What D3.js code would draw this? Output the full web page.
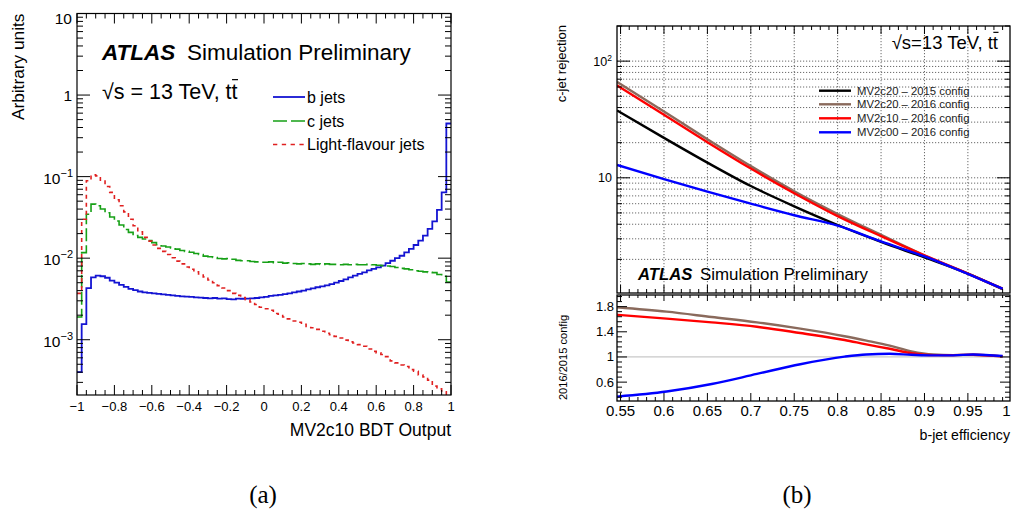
<!DOCTYPE html>
<html>
<head>
<meta charset="utf-8">
<script src="https://cdn.jsdelivr.net/npm/d3@7"></script>
<style>
  body { margin: 0; background: #fff; }
  svg { display: block; font-family: "Liberation Sans", Arial, Helvetica, sans-serif; }
</style>
</head>
<body>
<svg id="fig" width="1011" height="519"></svg>
<script>
// ---------- (a) MV2c10 BDT output, 80 bins from -1 to 1 ----------
const bdtRange = [-1, 1];
const bJets = [4.0e-4, 1.55e-3, 4.3e-3, 5.8e-3, 6.1e-3, 6.0e-3, 5.75e-3, 5.3e-3, 5.0e-3, 4.7e-3,
  4.45e-3, 4.2e-3, 4.05e-3, 3.9e-3, 3.8e-3, 3.75e-3, 3.7e-3, 3.65e-3, 3.6e-3, 3.55e-3,
  3.5e-3, 3.45e-3, 3.4e-3, 3.38e-3, 3.35e-3, 3.3e-3, 3.28e-3, 3.25e-3, 3.22e-3, 3.25e-3,
  3.2e-3, 3.22e-3, 3.15e-3, 3.12e-3, 3.2e-3, 3.18e-3, 3.2e-3, 3.22e-3, 3.25e-3, 3.3e-3,
  3.35e-3, 3.45e-3, 3.5e-3, 3.55e-3, 3.62e-3, 3.7e-3, 3.8e-3, 3.9e-3, 4.0e-3, 4.15e-3,
  4.25e-3, 4.4e-3, 4.5e-3, 4.65e-3, 4.8e-3, 5.0e-3, 5.25e-3, 5.5e-3, 5.8e-3, 6.1e-3,
  6.4e-3, 6.7e-3, 7.1e-3, 7.4e-3, 7.7e-3, 8.1e-3, 8.7e-3, 9.3e-3, 1.0e-2, 1.07e-2,
  1.18e-2, 1.3e-2, 1.45e-2, 1.64e-2, 1.89e-2, 2.29e-2, 2.83e-2, 3.9e-2, 6.4e-2, 0.448];
const cJets = [1.9e-3, 1.17e-2, 3.46e-2, 4.6e-2, 4.4e-2, 4.0e-2, 3.6e-2, 3.2e-2, 2.85e-2, 2.55e-2,
  2.25e-2, 2.07e-2, 1.9e-2, 1.8e-2, 1.72e-2, 1.64e-2, 1.55e-2, 1.46e-2, 1.41e-2, 1.37e-2,
  1.33e-2, 1.29e-2, 1.24e-2, 1.21e-2, 1.18e-2, 1.14e-2, 1.11e-2, 1.06e-2, 1.04e-2, 1.02e-2,
  9.9e-3, 9.8e-3, 9.9e-3, 9.7e-3, 9.4e-3, 9.3e-3, 9.3e-3, 9.1e-3, 9.0e-3, 8.9e-3,
  8.9e-3, 9.0e-3, 8.8e-3, 8.9e-3, 8.7e-3, 8.8e-3, 8.6e-3, 8.5e-3, 8.6e-3, 8.5e-3,
  8.4e-3, 8.5e-3, 8.4e-3, 8.5e-3, 8.4e-3, 8.4e-3, 8.3e-3, 8.4e-3, 8.3e-3, 8.4e-3,
  8.3e-3, 8.3e-3, 8.4e-3, 8.3e-3, 8.2e-3, 8.1e-3, 8.0e-3, 7.9e-3, 7.7e-3, 7.5e-3,
  7.4e-3, 7.2e-3, 7.0e-3, 6.9e-3, 6.8e-3, 6.7e-3, 6.65e-3, 6.3e-3, 6.0e-3, 5.1e-3];
const lightJets = [3.7e-3, 0.030, 0.089, 0.105, 0.102, 0.088, 0.0755, 0.064, 0.052, 0.044,
  0.037, 0.030, 0.025, 0.021, 0.018, 0.0162, 0.0145, 0.0132, 0.0121, 0.0111,
  0.0101, 0.0092, 0.0085, 0.0078, 0.0073, 0.0068, 0.0064, 0.0059, 0.0054, 0.0050,
  0.0046, 0.0043, 0.0040, 0.0037, 0.0035, 0.0033, 0.0031, 0.0029, 0.0027, 0.0025,
  0.0024, 0.0023, 0.0021, 0.00205, 0.0019, 0.0018, 0.0017, 0.00164, 0.00155, 0.00145,
  0.0014, 0.00134, 0.00127, 0.0012, 0.00115, 0.0011, 0.00105, 0.00099, 0.00094, 0.00091,
  0.00087, 0.00083, 0.00077, 0.00072, 0.00069, 0.00066, 0.00062, 0.00055, 0.00052, 0.00049,
  0.00047, 0.00043, 0.00041, 0.00037, 0.00035, 0.00032, 0.00027, 0.00025, 0.00023, 0.00015];
const bdtTickValues = [-1, -0.8, -0.6, -0.4, -0.2, 0, 0.2, 0.4, 0.6, 0.8, 1];
const bdtTickLabels = ["\u22121", "\u22120.8", "\u22120.6", "\u22120.4", "\u22120.2", "0", "0.2", "0.4", "0.6", "0.8", "1"];
const histLabels = ["b jets", "c jets", "Light-flavour jets"];

// ---------- (b) c-jet rejection vs b-jet efficiency ----------
const effPoints = [0.546, 0.6, 0.65, 0.7, 0.75, 0.8, 0.85, 0.9, 0.95, 0.99];
const rejMV2c20_2015 = [37.8, 22.0, 13.5, 8.5, 5.7, 3.94, 2.82, 2.08, 1.51, 1.11];
const rejMV2c20_2016 = [66.4, 37.0, 21.4, 12.6, 7.67, 4.9, 3.24, 2.16, 1.51, 1.12];
const rejMV2c10_2016 = [62.0, 34.7, 20.2, 12.0, 7.38, 4.7, 3.16, 2.16, 1.51, 1.12];
const rejMV2c00_2016 = [12.9, 9.75, 7.6, 6.0, 4.78, 3.89, 2.85, 2.12, 1.5, 1.12];
const ratioEff = [0.546, 0.603, 0.655, 0.707, 0.757, 0.808, 0.833, 0.86, 0.885, 0.91, 0.933, 0.956, 0.99];
const ratioMV2c20 = [1.79, 1.72, 1.635, 1.55, 1.45, 1.33, 1.26, 1.18, 1.09, 1.04, 1.03, 1.035, 1.01];
const ratioMV2c10 = [1.67, 1.61, 1.55, 1.48, 1.38, 1.27, 1.20, 1.13, 1.06, 1.03, 1.03, 1.035, 1.01];
const ratioMV2c00 = [0.37, 0.45, 0.57, 0.73, 0.885, 1.005, 1.04, 1.05, 1.035, 1.025, 1.025, 1.04, 1.015];
const rocLabels = ["MV2c20 \u2013 2015 config", "MV2c20 \u2013 2016 config", "MV2c10 \u2013 2016 config", "MV2c00 \u2013 2016 config"];
const effTickLabels = ["0.55", "0.6", "0.65", "0.7", "0.75", "0.8", "0.85", "0.9", "0.95", "1"];
const ratioTickValues = [0.6, 1, 1.4, 1.8];

const colB = "#1414d2", colC = "#16a016", colL = "#e02020";
const rocColors = ["#000000", "#8a6a5c", "#ff0000", "#0000ff"];

const svg = d3.select("#fig");
const defs = svg.append("defs");

function tick(g, x1, y1, x2, y2) {
  g.append("line").attr("x1", x1).attr("y1", y1).attr("x2", x2).attr("y2", y2)
    .attr("stroke", "#000").attr("stroke-width", 1);
}

// ===================== (a) =====================
const xL = d3.scaleLinear().domain(bdtRange).range([77, 451]);
const yL = d3.scaleLog().domain([2.1e-4, 10]).range([395, 13.5]);
const gA = svg.append("g");

defs.append("clipPath").attr("id", "clipA").append("rect")
  .attr("x", 77).attr("y", 13.5).attr("width", 374).attr("height", 381.5);

function histPoints(vals) {
  const w = (bdtRange[1] - bdtRange[0]) / vals.length;
  const pts = vals.map((v, i) => [bdtRange[0] + i * w, v]);
  pts.push([bdtRange[1], vals[vals.length - 1]]);
  return pts;
}
const stepLine = d3.line().x(d => xL(d[0])).y(d => yL(Math.max(d[1], 1e-5))).curve(d3.curveStepAfter);

const hists = [
  { vals: bJets, color: colB, dash: null, w: 1.8 },
  { vals: cJets, color: colC, dash: "13,4", w: 1.6 },
  { vals: lightJets, color: colL, dash: "4,4", w: 1.6 }
];
hists.forEach(h => {
  gA.append("path").datum(histPoints(h.vals))
    .attr("clip-path", "url(#clipA)")
    .attr("d", stepLine).attr("fill", "none")
    .attr("stroke", h.color).attr("stroke-width", h.w)
    .attr("stroke-dasharray", h.dash);
});

// frame
gA.append("rect").attr("x", 77).attr("y", 13.5).attr("width", 374).attr("height", 381.5)
  .attr("fill", "none").attr("stroke", "#000").attr("stroke-width", 1.2);

// x ticks (major 0.2, minor 0.05)
for (let k = -20; k <= 20; k++) {
  const v = k / 20, x = xL(v), major = (k % 4 === 0);
  const len = major ? 10 : 5;
  tick(gA, x, 395, x, 395 - len);
  tick(gA, x, 13.5, x, 13.5 + len);
}
bdtTickValues.forEach((v, i) => {
  gA.append("text").attr("x", xL(v)).attr("y", 411).attr("text-anchor", "middle")
    .attr("font-size", 13).text(bdtTickLabels[i]);
});

// y ticks (log)
for (let e = -4; e <= 1; e++) {
  for (let d = 1; d <= 9; d++) {
    const v = d * Math.pow(10, e);
    if (v < 2.1e-4 || v > 10.0001) continue;
    const y = yL(v), len = d === 1 ? 13 : 6;
    tick(gA, 77, y, 77 + len, y);
    tick(gA, 451, y, 451 - len, y);
  }
}
[[10, null], [1, null], [0.1, "\u22121"], [0.01, "\u22122"], [0.001, "\u22123"]].forEach(([v, sup]) => {
  const y = yL(v);
  if (sup === null) {
    const txt = v === 10 ? "10" : "1";
    gA.append("text").attr("x", 72).attr("y", v === 10 ? 24 : y + 5.5).attr("text-anchor", "end")
      .attr("font-size", 15.5).text(txt);
  } else {
    const t = gA.append("text").attr("x", 73).attr("y", y + 7).attr("text-anchor", "end").attr("font-size", 15.5);
    t.append("tspan").text("10");
    t.append("tspan").attr("dy", -7).attr("font-size", 11).text(sup);
  }
});

// axis titles
gA.append("text").attr("transform", "translate(24,13.5) rotate(-90)").attr("text-anchor", "end")
  .attr("font-size", 17.3).text("Arbitrary units");
gA.append("text").attr("x", 451).attr("y", 436).attr("text-anchor", "end")
  .attr("font-size", 17.5).text("MV2c10 BDT Output");

// ATLAS label
gA.append("text").attr("x", 102).attr("y", 60).attr("font-size", 22.5)
  .attr("font-weight", "bold").attr("font-style", "italic").text("ATLAS");
gA.append("text").attr("x", 187).attr("y", 60).attr("font-size", 22.5).text("Simulation Preliminary");

function energyLabel(g, x, y, size, anchor, spaced) {
  const str = spaced ? "\u221As = 13 TeV, tt" : "\u221As=13 TeV, tt";
  const t = g.append("text").attr("x", x).attr("y", y).attr("font-size", size)
    .attr("text-anchor", anchor).text(str);
  const n = t.node(), last = str.length - 1;
  const x0 = n.getStartPositionOfChar(last).x, x1 = n.getEndPositionOfChar(last).x;
  g.append("line").attr("x1", x0 + 0.5).attr("x2", x1 + 0.5)
    .attr("y1", y - 0.9 * size).attr("y2", y - 0.9 * size)
    .attr("stroke", "#000").attr("stroke-width", 1.2);
}
energyLabel(gA, 102, 99, 21.5, "start", true);

// legend
const legA = [
  { color: colB, dash: null, w: 1.8 },
  { color: colC, dash: "14,4", w: 1.6 },
  { color: colL, dash: "4.3,4.5", w: 1.6 }
];
legA.forEach((l, i) => {
  const y = [97, 121, 144.5][i];
  gA.append("line").attr("x1", 273).attr("x2", 305).attr("y1", y).attr("y2", y)
    .attr("stroke", l.color).attr("stroke-width", l.w).attr("stroke-dasharray", l.dash);
  gA.append("text").attr("x", 307).attr("y", y + 5.5).attr("font-size", 16).text(histLabels[i]);
});

// ===================== (b) =====================
const xR = d3.scaleLinear().domain([0.5459, 0.9985]).range([617, 1010]);
const yR = d3.scaleLog().domain([1.03, 200]).range([293, 26]);
const yQ = d3.scaleLinear().domain([0.3, 1.985]).range([401, 295]);
const gB = svg.append("g");

defs.append("clipPath").attr("id", "clipTop").append("rect")
  .attr("x", 617).attr("y", 26).attr("width", 393).attr("height", 267);
defs.append("clipPath").attr("id", "clipBot").append("rect")
  .attr("x", 617).attr("y", 295).attr("width", 393).attr("height", 106);

// grid (top pad)
const gridG = gB.append("g").attr("stroke", "#444").attr("stroke-width", 0.8)
  .attr("stroke-dasharray", "1.2,1.8");
for (let k = 55; k <= 95; k += 5) {
  const x = xR(k / 100);
  gridG.append("line").attr("x1", x).attr("x2", x).attr("y1", 26).attr("y2", 293);
}
for (let e = 0; e <= 2; e++) {
  for (let d = 1; d <= 9; d++) {
    const v = d * Math.pow(10, e);
    if (v < 1.9 || v > 100) continue;
    const y = yR(v);
    gridG.append("line").attr("x1", 617).attr("x2", 1010).attr("y1", y).attr("y2", y);
  }
}

// ratio reference line
gB.append("line").attr("x1", 617).attr("x2", 1010).attr("y1", yQ(1)).attr("y2", yQ(1))
  .attr("stroke", "#c8c8c8").attr("stroke-width", 1.2);

// curves
const rocLine = d3.line().x(d => xR(d[0])).y(d => yR(d[1])).curve(d3.curveMonotoneX);
[rejMV2c20_2015, rejMV2c20_2016, rejMV2c10_2016, rejMV2c00_2016].forEach((s, i) => {
  gB.append("path").datum(effPoints.map((e, j) => [e, s[j]]))
    .attr("clip-path", "url(#clipTop)").attr("d", rocLine)
    .attr("fill", "none").attr("stroke", rocColors[i]).attr("stroke-width", 2.4);
});
const ratioLine = d3.line().x(d => xR(d[0])).y(d => yQ(d[1])).curve(d3.curveMonotoneX);
[[ratioMV2c20, 1], [ratioMV2c10, 2], [ratioMV2c00, 3]].forEach(([s, c]) => {
  gB.append("path").datum(ratioEff.map((e, j) => [e, s[j]]))
    .attr("clip-path", "url(#clipBot)").attr("d", ratioLine)
    .attr("fill", "none").attr("stroke", rocColors[c]).attr("stroke-width", 2.4);
});

// frames
gB.append("rect").attr("x", 617).attr("y", 26).attr("width", 393).attr("height", 267)
  .attr("fill", "none").attr("stroke", "#000").attr("stroke-width", 1.3);
gB.append("rect").attr("x", 617).attr("y", 295).attr("width", 393).attr("height", 106)
  .attr("fill", "none").attr("stroke", "#000").attr("stroke-width", 1.3);

// x ticks both pads
for (let k = 55; k <= 99; k++) {
  const x = xR(k / 100), major = (k % 5 === 0);
  tick(gB, x, 26, x, 26 + (major ? 8 : 4));
  tick(gB, x, 293, x, 293 - (major ? 8 : 4));
  tick(gB, x, 295, x, 295 + (major ? 6 : 3));
  tick(gB, x, 401, x, 401 - (major ? 8 : 4));
}
effTickLabels.forEach((lab, i) => {
  const v = 0.55 + 0.05 * i;
  const last = i === effTickLabels.length - 1;
  gB.append("text").attr("x", last ? 1010.5 : xR(v)).attr("y", 415.5)
    .attr("text-anchor", last ? "end" : "middle")
    .attr("font-size", 15).text(lab);
});

// y ticks top pad (log)
for (let e = 0; e <= 2; e++) {
  for (let d = 1; d <= 9; d++) {
    const v = d * Math.pow(10, e);
    if (v < 1.03 || v > 200.01) continue;
    const y = yR(v), len = d === 1 ? 13 : 5;
    tick(gB, 617, y, 617 + len, y);
    tick(gB, 1010, y, 1010 - len, y);
  }
}
{
  const t = gB.append("text").attr("x", 612).attr("y", yR(100) + 4.5).attr("text-anchor", "end").attr("font-size", 12.5);
  t.append("tspan").text("10");
  t.append("tspan").attr("dy", -5).attr("font-size", 8.5).text("2");
  gB.append("text").attr("x", 612).attr("y", yR(10) + 4.5).attr("text-anchor", "end")
    .attr("font-size", 12.5).text("10");
}

// y ticks ratio pad
for (let k = -3; k <= 17; k++) {
  const v = (60 + 8 * k) / 100, y = yQ(v), major = (k % 5 === 0);
  if (v > 1.985) continue;
  tick(gB, 617, y, 617 + (major ? 10 : 5), y);
  tick(gB, 1010, y, 1010 - (major ? 10 : 5), y);
}
ratioTickValues.forEach(v => {
  gB.append("text").attr("x", 614).attr("y", yQ(v) + 4.5).attr("text-anchor", "end")
    .attr("font-size", 13).text(String(v));
});

// axis titles
gB.append("text").attr("transform", "translate(566,25) rotate(-90)").attr("text-anchor", "end")
  .attr("font-size", 13).text("c-jet rejection");
gB.append("text").attr("transform", "translate(567,357.5) rotate(-90)").attr("text-anchor", "middle")
  .attr("font-size", 11.1).text("2016/2015 config");
gB.append("text").attr("x", 1010).attr("y", 440).attr("text-anchor", "end")
  .attr("font-size", 14.2).text("b-jet efficiency");

// labels
energyLabel(gB, 998, 49, 18.5, "end", false);
gB.append("text").attr("x", 638).attr("y", 280).attr("font-size", 16.7)
  .attr("font-weight", "bold").attr("font-style", "italic").text("ATLAS");
gB.append("text").attr("x", 700).attr("y", 280).attr("font-size", 16.9).text("Simulation Preliminary");

// legend
rocLabels.forEach((lab, i) => {
  const y = [90.7, 104.3, 118.3, 132.3][i];
  gB.append("line").attr("x1", 819).attr("x2", 851).attr("y1", y).attr("y2", y)
    .attr("stroke", rocColors[i]).attr("stroke-width", 2.4);
  gB.append("text").attr("x", 857).attr("y", y + 4).attr("font-size", 11.3)
    .attr("fill", "#222").text(lab);
});

// captions
svg.append("text").attr("x", 263).attr("y", 503).attr("text-anchor", "middle")
  .attr("font-family", "'Liberation Serif', 'DejaVu Serif', serif").attr("font-size", 25).text("(a)");
svg.append("text").attr("x", 797).attr("y", 503).attr("text-anchor", "middle")
  .attr("font-family", "'Liberation Serif', 'DejaVu Serif', serif").attr("font-size", 25).text("(b)");
</script>
</body>
</html>
